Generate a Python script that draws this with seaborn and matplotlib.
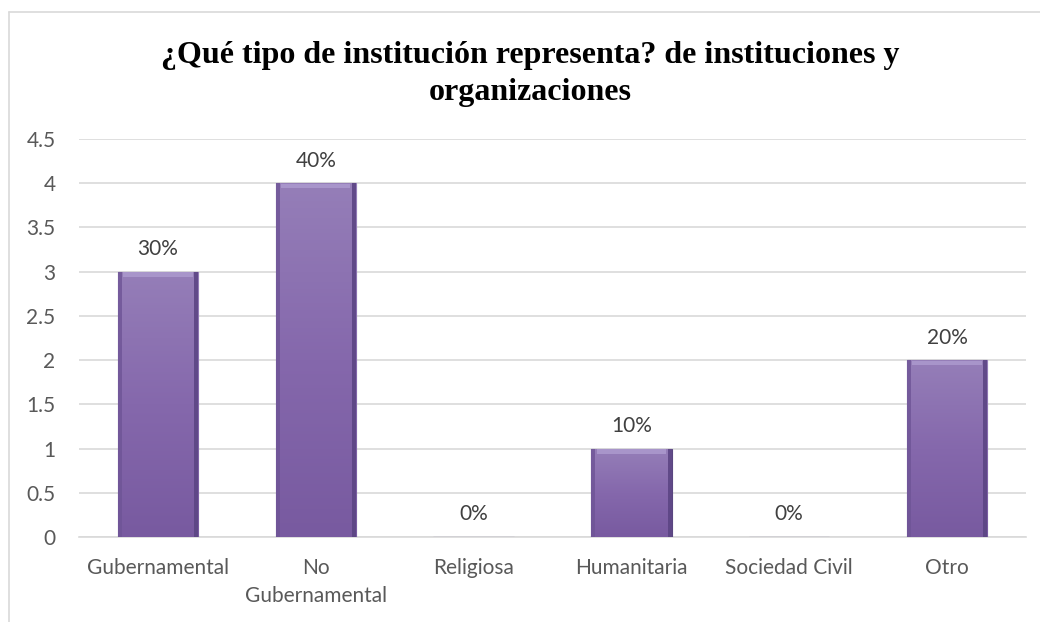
import numpy as np
import pandas as pd
import matplotlib.pyplot as plt
import seaborn as sns
from matplotlib.lines import Line2D
from matplotlib.colors import LinearSegmentedColormap

# Data
categories = ["Gubernamental", "No\nGubernamental", "Religiosa", "Humanitaria", "Sociedad Civil", "Otro"]
counts = [3, 4, 0, 1, 0, 2]
pct_labels = ["30%", "40%", "0%", "10%", "0%", "20%"]
y_ticks = [0, 0.5, 1, 1.5, 2, 2.5, 3, 3.5, 4, 4.5]
y_tick_labels = ["0", "0.5", "1", "1.5", "2", "2.5", "3", "3.5", "4", "4.5"]
title_lines = ["¿Qué tipo de institución representa? de instituciones y", "organizaciones"]

df = pd.DataFrame({"tipo": categories, "n": counts})

sns.set_theme(style="white")
plt.rcParams["font.family"] = ["Lato", "DejaVu Sans"]

fig = plt.figure(figsize=(10.4, 6.22), dpi=100)
ax = fig.add_axes([0.076, 0.1367, 0.9105, 0.64])

sns.barplot(data=df, x="tipo", y="n", color="#8567A8", width=0.51, ax=ax,
            edgecolor="#5A4680", linewidth=0.8, zorder=3)

# vertical gradient fill for each bar
grad = LinearSegmentedColormap.from_list("purp", ["#785AA0", "#8568AC", "#957EB8"])
for p in ax.patches:
    h = p.get_height()
    if h <= 0:
        continue
    x0 = p.get_x()
    w = p.get_width()
    img = ax.imshow(np.linspace(0, 1, 100).reshape(-1, 1), cmap=grad, origin="lower",
                    extent=[x0, x0 + w, 0, h], aspect="auto", zorder=3.5)
    img.set_clip_path(p)
    # bevel: light top strip, darker sides
    ax.fill_between([x0 + w * 0.07, x0 + w * 0.93], h - 0.06, h - 0.01,
                    color="#AE9CD0", alpha=0.8, zorder=3.6, linewidth=0)
    ax.fill_between([x0, x0 + w * 0.05], 0, h, color="#6E5496", alpha=0.8, zorder=3.6, linewidth=0)
    ax.fill_between([x0 + w * 0.95, x0 + w], 0, h, color="#5C4584", alpha=0.9, zorder=3.6, linewidth=0)

for i, (v, lab) in enumerate(zip(counts, pct_labels)):
    ax.annotate(lab, (i, v), xytext=(0, 9), textcoords="offset points",
                ha="center", va="bottom", fontsize=15, color="#404040")

ax.set_xlim(-0.5, 5.5)
ax.set_ylim(0, 4.5)
ax.set_yticks(y_ticks)
ax.set_yticklabels(y_tick_labels)
ax.yaxis.grid(True, color="#D9D9D9", linewidth=1.2, zorder=0)
ax.set_axisbelow(True)
ax.set_xlabel("")
ax.set_ylabel("")
for s in ["top", "right", "left"]:
    ax.spines[s].set_visible(False)
ax.spines["bottom"].set_color("#D9D9D9")
ax.spines["bottom"].set_linewidth(1.2)
ax.tick_params(axis="both", labelsize=15, colors="#595959", length=0)
ax.tick_params(axis="y", pad=17)
ax.tick_params(axis="x", pad=15)
for t in ax.get_xticklabels():
    t.set_linespacing(1.5)

for line, yb in zip(title_lines, [1 - 63 / 622, 1 - 100 / 622]):
    fig.text(0.51, yb, line, ha="center", va="baseline", fontsize=23, fontweight="bold",
             family=["Liberation Serif", "DejaVu Serif"], color="black")

# outer chart border (left and top edges visible)
fig.add_artist(Line2D([9 / 1040, 9 / 1040], [0, 1 - 12 / 622], transform=fig.transFigure,
                      color="#D9D9D9", linewidth=1.2))
fig.add_artist(Line2D([9 / 1040, 1], [1 - 12 / 622, 1 - 12 / 622], transform=fig.transFigure,
                      color="#D9D9D9", linewidth=1.2))

fig.savefig("out.png", dpi=100)
